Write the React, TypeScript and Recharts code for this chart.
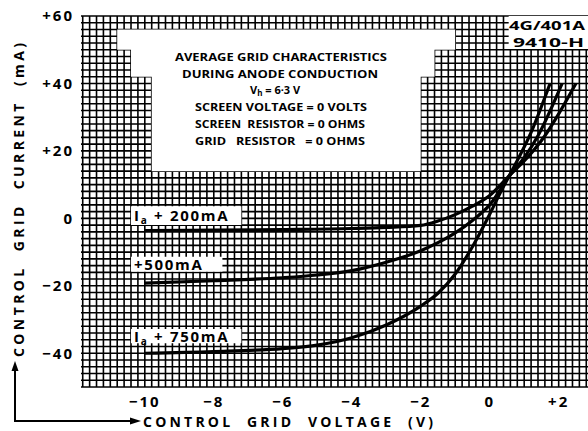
import React from 'react';
import {
    LineChart,
    Line,
    XAxis,
    YAxis,
    CartesianGrid,
    ReferenceArea
} from 'recharts';

// tick labels
const X_TICKS = [-10, -8, -6, -4, -2, 0, 2];
const Y_TICKS = [60, 40, 20, 0, -20, -40];

// Ia + 200 mA
const V_200 = [-10, -8, -6, -4, -3, -2, -1.5, -1, -0.5, 0, 0.6, 1.0, 1.6, 2.0, 2.5];
const I_200 = [-3.6, -3.5, -3.3, -3.0, -2.7, -2.1, -0.8, 1.1, 3.6, 6.8, 13, 17, 24.5, 31, 40];

// Ia + 500 mA
const V_500 = [-10, -8, -6, -5, -4, -3, -2, -1.5, -1, -0.5, 0, 0.6, 1.0, 1.4, 2.1];
const I_500 = [-19.2, -18.5, -17.6, -16.8, -15.5, -13, -9.6, -7.2, -4.3, -0.6, 4, 13, 18, 24.5, 40];

// Ia + 750 mA
const V_750 = [-10, -8, -6, -5, -4, -3, -2, -1.5, -1, -0.5, 0, 0.35, 0.6, 1.2, 1.75];
const I_750 = [-40, -39.5, -38.6, -37.6, -35.4, -31.6, -26, -22.2, -16.5, -8.4, 1.2, 8.5, 13.3, 25.5, 40];

const toRows = (vs: number[], is: number[]) => vs.map((v, k) => ({ v, i: is[k] }));

const FONT = "'Open Sans', 'DejaVu Sans', sans-serif";
const X_DOMAIN: [number, number] = [-11.85, 2.85];
const Y_DOMAIN: [number, number] = [-50, 60];

// graph paper: 0.2 V by 2 mA
const GRID_V: number[] = [];
for (let k = -59; k <= 14; k++) GRID_V.push(Math.round(k * 2) / 10);
const GRID_I: number[] = [];
for (let k = -25; k <= 30; k++) GRID_I.push(k * 2);

const fmtX = (v: number) => (v > 0 ? `+${v}` : v < 0 ? `\u2212${Math.abs(v)}` : '0');
const fmtY = (v: number) => (v > 0 ? `+${v}` : v < 0 ? `\u2212${Math.abs(v)}` : '0');

const SeriesTag = ({ viewBox, sub, text }: any) => {
    if (!viewBox) return null;
    const { x, y, height } = viewBox;
    return (
        <text
            x={x + 3}
            y={y + height / 2 + 5.5}
            fontFamily={FONT}
            fontWeight={700}
            fontSize={15}
            letterSpacing={1.7}
            fill="#000"
        >
            {sub ? (
                <>
                    <tspan>I</tspan>
                    <tspan fontSize={10} dy={3}>a</tspan>
                    <tspan dy={-3}>{text}</tspan>
                </>
            ) : (
                <tspan>{text}</tspan>
            )}
        </text>
    );
};

const titleLines = [
    { t: 'AVERAGE GRID CHARACTERISTICS', x: 175, y: 61, w: 212 },
    { t: 'DURING ANODE CONDUCTION', x: 182, y: 78, w: 196 },
    { t: 'SCREEN VOLTAGE = 0 VOLTS', x: 195, y: 111, w: 172 },
    { t: 'SCREEN  RESISTOR = 0 OHMS', x: 195, y: 128, w: 170 },
    { t: 'GRID   RESISTOR   = 0 OHMS', x: 195, y: 145, w: 170 }
];

const App: React.FC = () => {
    return (
        <div style={{ position: 'absolute', left: 0, top: 0, width: 588, height: 431, background: '#fff' }}>
            <LineChart
                width={588}
                height={431}
                margin={{ top: 16, right: 0, bottom: 0, left: 0 }}
            >
                <CartesianGrid
                    stroke="#000"
                    strokeWidth={1.6}
                    verticalValues={GRID_V}
                    horizontalValues={GRID_I}
                />
                <XAxis
                    type="number"
                    dataKey="v"
                    domain={X_DOMAIN}
                    allowDataOverflow
                    ticks={X_TICKS}
                    interval={0}
                    tickFormatter={fmtX}
                    axisLine={false}
                    tickLine={false}
                    height={44}
                    tickMargin={3}
                    tick={{ fill: '#000', fontSize: 15, fontWeight: 700, fontFamily: FONT, letterSpacing: 2 }}
                />
                <YAxis
                    type="number"
                    domain={Y_DOMAIN}
                    allowDataOverflow
                    ticks={Y_TICKS}
                    interval={0}
                    tickFormatter={fmtY}
                    axisLine={false}
                    tickLine={false}
                    width={81}
                    tickMargin={1}
                    tick={{ fill: '#000', fontSize: 15, fontWeight: 700, fontFamily: FONT, letterSpacing: 2 }}
                />

                {/* white panels cut out of the graph paper */}
                <ReferenceArea x1={-10.8} x2={-1.0} y1={50} y2={56} fill="#fff" fillOpacity={1} stroke="none" />
                <ReferenceArea x1={-10.4} x2={-1.6} y1={42} y2={50.2} fill="#fff" fillOpacity={1} stroke="none" />
                <ReferenceArea x1={-9.8} x2={-2.0} y1={14} y2={42.2} fill="#fff" fillOpacity={1} stroke="none" />
                <ReferenceArea x1={0.55} x2={2.85} y1={50.2} y2={60} fill="#fff" fillOpacity={1} stroke="none" />

                <ReferenceArea
                    x1={-10.4} x2={-7.2} y1={-2} y2={3.6}
                    fill="#fff" fillOpacity={1} stroke="none"
                    label={<SeriesTag sub text=" + 200mA" />}
                />
                <ReferenceArea
                    x1={-10.4} x2={-7.75} y1={-15.8} y2={-11.4}
                    fill="#fff" fillOpacity={1} stroke="none"
                    label={<SeriesTag text="+500mA" />}
                />
                <ReferenceArea
                    x1={-10.4} x2={-7.2} y1={-37} y2={-32.8}
                    fill="#fff" fillOpacity={1} stroke="none"
                    label={<SeriesTag sub text=" + 750mA" />}
                />

                <Line data={toRows(V_200, I_200)} dataKey="i" type="monotone" stroke="#000" strokeWidth={3.2} dot={false} isAnimationActive={false} />
                <Line data={toRows(V_500, I_500)} dataKey="i" type="monotone" stroke="#000" strokeWidth={3.2} dot={false} isAnimationActive={false} />
                <Line data={toRows(V_750, I_750)} dataKey="i" type="monotone" stroke="#000" strokeWidth={3.2} dot={false} isAnimationActive={false} />
            </LineChart>

            <svg
                width={588}
                height={431}
                style={{ position: 'absolute', left: 0, top: 0, pointerEvents: 'none' }}
                fontFamily={FONT}
                fontWeight={700}
                fill="#000"
            >
                {titleLines.map((l) => (
                    <text key={l.t} x={l.x} y={l.y} fontSize={11} textLength={l.w} lengthAdjust="spacingAndGlyphs" style={{ whiteSpace: 'pre' }}>
                        {l.t}
                    </text>
                ))}
                <text x={250} y={94} fontSize={11}>
                    <tspan>V</tspan>
                    <tspan fontSize={8} dy={2}>h</tspan>
                    <tspan dy={-2}> = 6·3 V</tspan>
                </text>

                <text x={509} y={30} fontSize={13} textLength={76} lengthAdjust="spacingAndGlyphs">4G/401A</text>
                <text x={513} y={47} fontSize={13} textLength={71} lengthAdjust="spacingAndGlyphs">9410-H</text>

                <text
                    x={0}
                    y={0}
                    fontSize={14}
                    textAnchor="middle"
                    transform="translate(24 200) rotate(-90)"
                    textLength={314}
                    lengthAdjust="spacing"
                    style={{ whiteSpace: 'pre' }}
                >
                    CONTROL  GRID  CURRENT  (mA)
                </text>

                <text x={143} y={427} fontSize={14} textLength={290} lengthAdjust="spacing" style={{ whiteSpace: 'pre' }}>
                    CONTROL  GRID  VOLTAGE  (V)
                </text>

                <polyline points="15,368 15,421 132,421" fill="none" stroke="#000" strokeWidth={2} />
                <polygon points="15,361 11.5,371 18.5,371" fill="#000" />
                <polygon points="141,421 130,417.5 130,424.5" fill="#000" />
            </svg>
        </div>
    );
};

export default App;
